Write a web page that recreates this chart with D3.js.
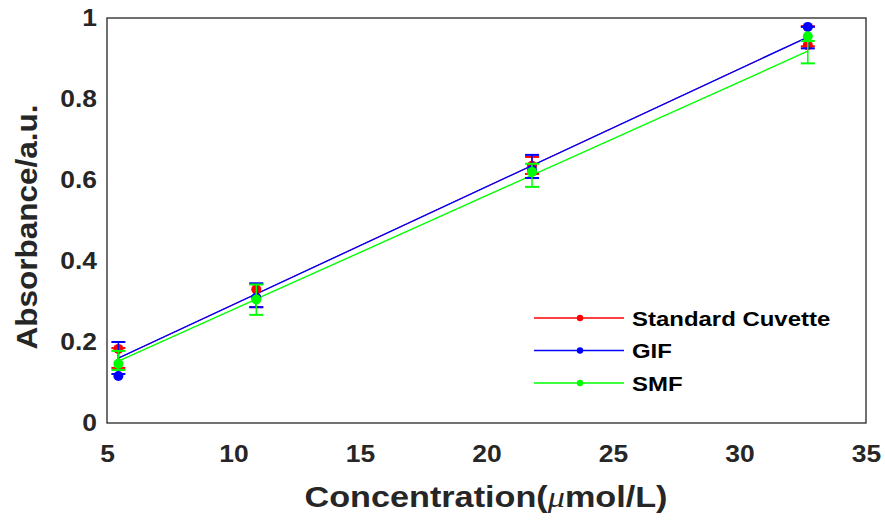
<!DOCTYPE html>
<html>
<head>
<meta charset="utf-8">
<script src="https://cdn.jsdelivr.net/npm/d3@7"></script>
<style>
  body { margin: 0; background: #fff; }
  svg { display: block; font-family: "Liberation Sans", Arial, sans-serif; }
</style>
</head>
<body>
<svg id="chart" width="885" height="523"></svg>
<script>
// concentrations (µmol/L)
const conc = [5.45, 10.9, 21.8, 32.7];

// marker values, error bar ends, fitted line ends
const stdMean = [0.183, 0.33, 0.635, 0.933];
const stdLow  = [0.136, 0.286, 0.615, 0.93];
const stdHigh = [0.185, 0.343, 0.657, 0.98];
const stdFit  = [0.160, 0.953];

const gifMean = [0.116, 0.31, 0.625, 0.978];
const gifLow  = [0.121, 0.286, 0.605, 0.925];
const gifHigh = [0.200, 0.345, 0.662, 0.978];
const gifFit  = [0.160, 0.953];

const smfMean = [0.146, 0.305, 0.62, 0.955];
const smfLow  = [0.131, 0.267, 0.583, 0.888];
const smfHigh = [0.178, 0.342, 0.64, 0.943];
const smfFit  = [0.153, 0.918];

const xTicks = [5, 10, 15, 20, 25, 30, 35];
const yTicks = [0, 0.2, 0.4, 0.6, 0.8, 1];

const series = [
  { name: 'Standard Cuvette', color: '#ff0000', mean: stdMean, low: stdLow, high: stdHigh, fit: stdFit, lw: 1 },
  { name: 'GIF', color: '#0000ff', mean: gifMean, low: gifLow, high: gifHigh, fit: gifFit, lw: 1.4 },
  { name: 'SMF', color: '#00ff00', mean: smfMean, low: smfLow, high: smfHigh, fit: smfFit, lw: 1.4 }
];

const svg = d3.select('#chart');
const m = { left: 107, right: 866, top: 18, bottom: 423 };

const x = d3.scaleLinear().domain([5, 35]).range([m.left, m.right]);
const y = d3.scaleLinear().domain([0, 1]).range([m.bottom, m.top]);

const ink = '#262626';

// the original font is set a bit wider than Liberation, so widen text
function widen(sel, k) {
  sel.each(function () {
    const w = this.getComputedTextLength();
    d3.select(this).attr('textLength', w * k).attr('lengthAdjust', 'spacingAndGlyphs');
  });
}

// tick labels (no tick marks)
const xAxis = svg.append('g')
  .attr('transform', `translate(0,${m.bottom})`)
  .call(d3.axisBottom(x).tickValues(xTicks).tickSize(0).tickPadding(22));
const yAxis = svg.append('g')
  .attr('transform', `translate(${m.left},0)`)
  .call(d3.axisLeft(y).tickValues(yTicks).tickSize(0).tickPadding(10).tickFormat(d3.format('~g')));
[xAxis, yAxis].forEach(g => {
  g.select('.domain').remove();
  g.selectAll('text')
    .attr('fill', ink)
    .style('font-size', '24px')
    .style('font-weight', 'bold')
    .style('font-family', '"Liberation Sans", Arial, sans-serif')
    .call(widen, 1.1);
});

// plot data
const plot = svg.append('g');

series.forEach(s => {
  plot.append('line')
    .attr('x1', x(conc[0])).attr('x2', x(conc[conc.length - 1]))
    .attr('y1', y(s.fit[0])).attr('y2', y(s.fit[1]))
    .attr('stroke', s.color).attr('stroke-width', s.lw);
});

const cap = 7;
series.forEach(s => {
  const g = plot.append('g');
  conc.forEach((c, i) => {
    const cx = x(c);
    g.append('line')
      .attr('x1', cx).attr('x2', cx)
      .attr('y1', y(s.low[i])).attr('y2', y(s.high[i]))
      .attr('stroke', s.color).attr('stroke-width', 1.5);
    [s.low[i], s.high[i]].forEach(v => {
      g.append('line')
        .attr('x1', cx - cap).attr('x2', cx + cap)
        .attr('y1', y(v)).attr('y2', y(v))
        .attr('stroke', s.color).attr('stroke-width', 2);
    });
    g.append('circle')
      .attr('cx', cx).attr('cy', y(s.mean[i]))
      .attr('r', 5).attr('fill', s.color);
  });
});

// axes box
svg.append('rect')
  .attr('x', m.left).attr('y', m.top)
  .attr('width', m.right - m.left).attr('height', m.bottom - m.top)
  .attr('fill', 'none').attr('stroke', ink).attr('stroke-width', 1.3);

// legend
const leg = svg.append('g').attr('transform', 'translate(534,318)');
series.forEach((s, i) => {
  const row = leg.append('g').attr('transform', `translate(0,${i * 32.5})`);
  row.append('line').attr('x1', 0).attr('x2', 90).attr('y1', 0).attr('y2', 0)
    .attr('stroke', s.color).attr('stroke-width', 1.3);
  row.append('circle').attr('cx', 46).attr('cy', 0).attr('r', 3.2).attr('fill', s.color);
  row.append('text').attr('x', 98).attr('y', 7.5)
    .attr('fill', '#000')
    .style('font-size', '21px').style('font-weight', 'bold')
    .text(s.name)
    .call(widen, 1.14);
});

// axis titles
svg.append('text')
  .attr('x', 486).attr('y', 507)
  .attr('text-anchor', 'middle')
  .attr('fill', ink)
  .style('font-size', '29px').style('font-weight', 'bold')
  .call(t => {
    t.append('tspan').text('Concentration(');
    t.append('tspan').style('font-style', 'italic').style('font-family', '"Liberation Serif", serif').style('font-weight', 'normal').text('μ');
    t.append('tspan').text('mol/L)');
  })
  .attr('textLength', 363).attr('lengthAdjust', 'spacingAndGlyphs');

svg.append('text')
  .attr('transform', 'translate(37,227) rotate(-90)')
  .attr('text-anchor', 'middle')
  .attr('fill', ink)
  .style('font-size', '30px').style('font-weight', 'bold')
  .text('Absorbance/a.u.')
  .attr('textLength', 245).attr('lengthAdjust', 'spacingAndGlyphs');
</script>
</body>
</html>
